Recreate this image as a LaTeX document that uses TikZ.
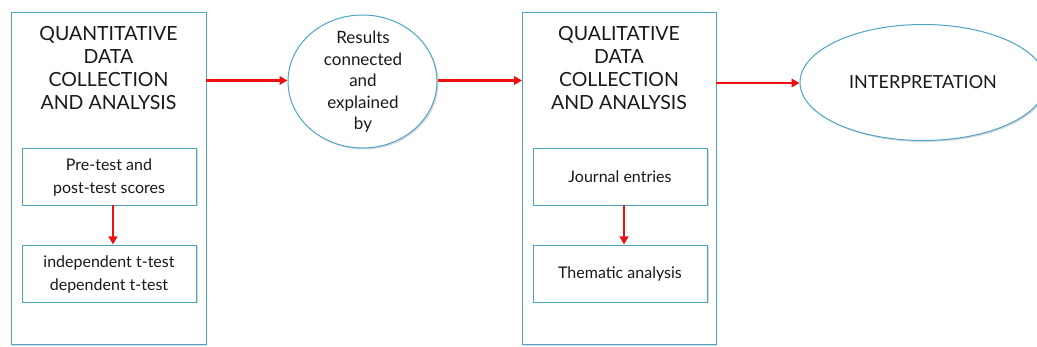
\documentclass[tikz,border=0pt]{standalone}
\usepackage{fontspec}
\setmainfont{Lato}
\usetikzlibrary{shapes.geometric,arrows.meta,shadows}
\definecolor{bord}{RGB}{75,165,195}
\definecolor{arr}{RGB}{238,16,16}
\begin{document}
\begin{tikzpicture}[x=1pt,y=-1pt,
  bigbox/.style={draw=bord,line width=1pt,fill=white,drop shadow={shadow xshift=1pt,shadow yshift=-1pt,opacity=0.25}},
  smallbox/.style={draw=bord,line width=0.9pt,fill=white,drop shadow={shadow xshift=1.5pt,shadow yshift=-1.5pt,opacity=0.3}},
  oval/.style={ellipse,draw=bord,line width=1pt,fill=white,drop shadow={shadow xshift=1.5pt,shadow yshift=-1.5pt,opacity=0.3}},
  flow/.style={draw=arr,line width=2.5pt,-{Triangle[length=8pt,width=8.5pt]}},
  bigtxt/.style={font=\fontsize{19.5}{23}\selectfont,align=center,text=black!90},
  smtxt/.style={font=\fontsize{16}{23}\selectfont,align=center,text=black!90},
  circtxt/.style={font=\fontsize{17}{21.5}\selectfont,align=center,text=black!90}]
\useasboundingbox (0,0) rectangle (1037,347);
\begin{scope}
\clip (0,0) rectangle (1037,347);
% left column
\draw[bigbox] (11,13) rectangle (206,345);
\node[bigtxt] (qt) at (108.5,68) {QUANTITATIVE\\DATA\\COLLECTION\\AND ANALYSIS};
\draw[smallbox] (22,148) rectangle (196,205);
\node[smtxt] (pre) at (109,177) {Pre-test and\\post-test scores};
\draw[smallbox] (22,245) rectangle (196,302);
\node[smtxt] (ttest) at (109,274) {independent t-test\\dependent t-test};
\coordinate (lbR) at (206,80.5);
\coordinate (pb) at (113,205.5);
\coordinate (tt) at (113,244.5);
% circle
\node[oval,minimum width=149pt,minimum height=133pt,inner sep=0pt] (res) at (362.5,81.5) {};
\node[circtxt] at (363,82) {Results\\connected\\and\\explained\\by};
% right column
\draw[bigbox] (522,13) rectangle (716,345);
\node[bigtxt] (ql) at (619,68) {QUALITATIVE\\DATA\\COLLECTION\\AND ANALYSIS};
\draw[smallbox] (533,148) rectangle (707,205);
\node[smtxt] (jour) at (620,177) {Journal entries};
\draw[smallbox] (533,245) rectangle (707,302);
\node[smtxt] (them) at (620,274) {Thematic analysis};
\coordinate (rbL) at (522,80.5);
\coordinate (rbR) at (716,83);
\coordinate (jb) at (624,205.5);
\coordinate (th) at (624,244.5);
% ellipse
\node[oval,minimum width=246pt,minimum height=116pt,inner sep=0pt] (interp) at (923,82.5) {};
\node[bigtxt,font=\fontsize{18}{22}\selectfont] at (923,82.5) {INTERPRETATION};
% arrows
\draw[flow] (lbR) -- (res.west |- lbR);
\draw[flow] (res.east |- rbL) -- (rbL);
\draw[flow] (rbR) -- (interp.west |- rbR);
\draw[flow] (pb) -- (tt);
\draw[flow] (jb) -- (th);
\end{scope}
\end{tikzpicture}
\end{document}
